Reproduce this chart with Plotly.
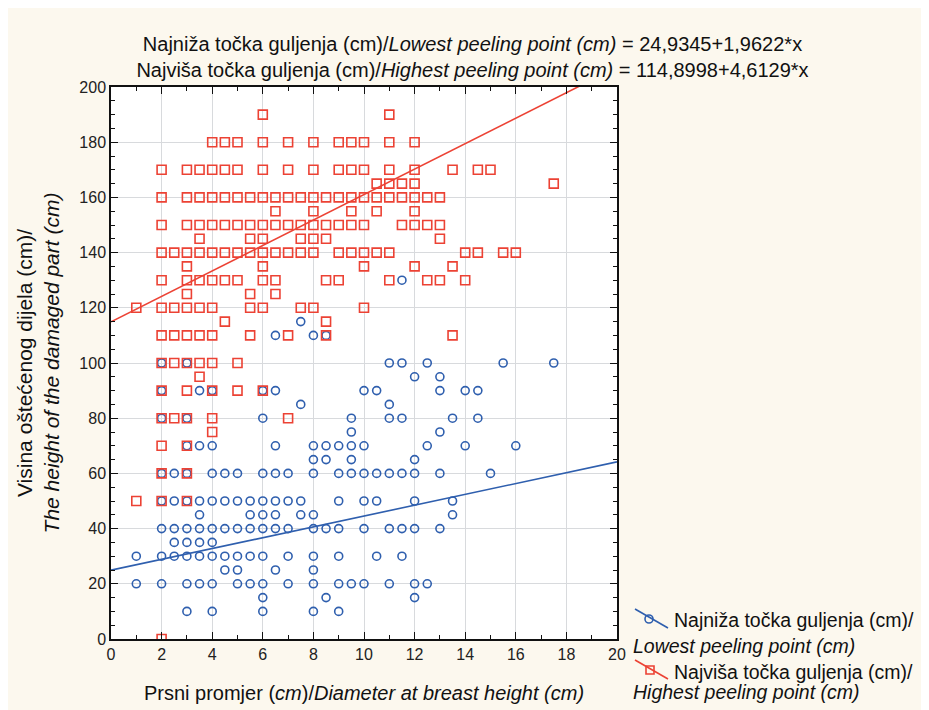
import plotly.graph_objects as go

# ---- data ----
# Lowest peeling point (blue circles): DBH (cm) and height (cm)
low_dbh = [
    11.5,
    7.5,
    6.5, 8, 8.5,
    2, 3, 11, 11.5, 12.5, 15.5, 17.5,
    12, 13,
    2, 3.5, 4, 6, 6.5, 10, 10.5, 13, 14, 14.5,
    7.5, 11,
    2, 3, 6, 9.5, 11, 11.5, 13.5, 14.5,
    9.5, 13,
    3, 3.5, 4, 6.5, 8, 8.5, 9, 9.5, 10, 12.5, 14, 16,
    8, 8.5, 9.5, 12,
    2, 2.5, 3, 4, 4.5, 5, 6, 6.5, 7, 8, 9, 9.5, 10, 10.5, 11, 11.5, 12, 13, 15,
    2, 2.5, 3, 3.5, 4, 4.5, 5, 5.5, 6, 6.5, 7, 7.5, 9, 10, 10.5, 12, 13.5,
    3.5, 5.5, 6, 6.5, 7.5, 8, 13.5,
    2, 2.5, 3, 3.5, 4, 4.5, 5, 5.5, 6, 6.5, 7, 8, 8.5, 9, 10, 11, 11.5, 12, 13,
    2.5, 3, 3.5, 4,
    1, 2, 2.5, 3, 3.5, 4, 4.5, 5, 5.5, 6, 7, 8, 9, 10.5, 11.5,
    4.5, 5, 6.5, 8,
    1, 2, 3, 3.5, 4, 5, 5.5, 6, 7, 8, 9, 9.5, 10, 11, 12, 12.5,
    6, 8.5, 12,
    3, 4, 6, 8, 9,
]
low_height = (
    [130] * 1 + [115] * 1 + [110] * 3 + [100] * 7 + [95] * 2 + [90] * 10
    + [85] * 2 + [80] * 8 + [75] * 2 + [70] * 12 + [65] * 4 + [60] * 19
    + [50] * 17 + [45] * 7 + [40] * 19 + [35] * 4 + [30] * 15 + [25] * 4
    + [20] * 16 + [15] * 3 + [10] * 5
)

# Highest peeling point (red squares)
high_dbh = [
    6, 11,
    4, 4.5, 5, 6, 7, 8, 9, 9.5, 10, 11, 12,
    2, 3, 3.5, 4, 4.5, 5, 6, 7, 8, 9, 9.5, 10, 11, 12, 13.5, 14.5, 15,
    10.5, 11, 11.5, 12, 17.5,
    2, 3, 3.5, 4, 4.5, 5, 5.5, 6, 6.5, 7, 7.5, 8, 8.5, 9, 9.5, 10, 10.5, 11, 11.5, 12, 12.5, 13,
    6.5, 8, 9.5, 10.5, 12,
    2, 3, 3.5, 4, 4.5, 5, 5.5, 6, 6.5, 7, 7.5, 8, 8.5, 9, 9.5, 10, 11.5, 12, 12.5, 13,
    3.5, 5.5, 6, 7.5, 8, 8.5, 13,
    2, 2.5, 3, 3.5, 4, 4.5, 5, 5.5, 6, 6.5, 7, 7.5, 8, 9, 9.5, 10, 10.5, 11, 14, 14.5, 15.5, 16,
    3, 6, 10, 12, 13.5,
    2, 3, 3.5, 4, 4.5, 5, 6, 6.5, 8.5, 9, 11, 12.5, 13, 14,
    3, 5.5, 6.5,
    1, 2, 2.5, 3, 3.5, 4, 5.5, 6, 7.5, 8, 10,
    4.5, 8.5,
    2, 2.5, 3, 3.5, 4, 5.5, 7, 8.5, 13.5,
    2, 2.5, 3, 3.5, 4, 5,
    3.5,
    2, 3, 4, 5, 6,
    2, 2.5, 3, 4, 7,
    4,
    2, 3,
    2, 3,
    1, 2, 3,
    2,
]
high_height = (
    [190] * 2 + [180] * 11 + [170] * 17 + [165] * 5 + [160] * 22 + [155] * 5
    + [150] * 20 + [145] * 7 + [140] * 22 + [135] * 5 + [130] * 14 + [125] * 3
    + [120] * 11 + [115] * 2 + [110] * 9 + [100] * 6 + [95] * 1 + [90] * 5
    + [80] * 5 + [75] * 1 + [70] * 2 + [60] * 2 + [50] * 3 + [0] * 1
)

# Regression coefficients (from the chart title)
low_a, low_b = 24.9345, 1.9622
high_a, high_b = 114.8998, 4.6129
fit_x = [0, 20]

x_ticks = list(range(0, 21, 2))
y_ticks = list(range(0, 201, 20))

legend_first = ["Najniža točka guljenja (cm)/", "Najviša točka guljenja (cm)/"]
legend_second = ["Lowest peeling point (cm)", "Highest peeling point (cm)"]

BLUE = "#2f5fae"
RED = "#ec4234"
FONT = "Liberation Sans, Arial, sans-serif"

# layout geometry (figure pixels)
W, H = 929, 710
ML, MR, MT, MB = 103, 320, 79, 79
PW, PH = W - ML - MR, H - MT - MB


def px(xp):
    return (xp - ML) / PW


def py(yp):
    return (H - MB - yp) / PH


fig = go.Figure()

fig.add_trace(go.Scatter(
    x=low_dbh, y=low_height, mode="markers", showlegend=False,
    marker=dict(symbol="circle-open", size=8, color=BLUE, line=dict(width=1.6, color=BLUE)),
))
fig.add_trace(go.Scatter(
    x=high_dbh, y=high_height, mode="markers", showlegend=False,
    marker=dict(symbol="square-open", size=9, color=RED, line=dict(width=1.6, color=RED)),
))
fig.add_trace(go.Scatter(
    x=fit_x, y=[low_a + low_b * v for v in fit_x], mode="lines", showlegend=False,
    line=dict(color=BLUE, width=1.6),
))
fig.add_trace(go.Scatter(
    x=fit_x, y=[high_a + high_b * v for v in fit_x], mode="lines", showlegend=False,
    line=dict(color=RED, width=1.6),
))

axis_common = dict(
    showline=True, linecolor="#111111", linewidth=1.5, mirror="allticks",
    ticks="inside", ticklen=7, tickwidth=1.3, tickcolor="#111111",
    showgrid=True, gridcolor="#d8dadd", gridwidth=1.2, zeroline=False,
    tickfont=dict(family=FONT, size=16, color="#222222"),
)

fig.update_xaxes(
    range=[0, 20], tickvals=x_ticks, ticktext=[str(v) for v in x_ticks],
    minor=dict(dtick=1, ticks="inside", ticklen=4, tickcolor="#111111", showgrid=False),
    title=dict(text="Prsni promjer (<i>cm</i>)/<i>Diameter at breast height (cm)</i>",
               font=dict(family=FONT, size=20, color="#111111"), standoff=24),
    automargin=False, **axis_common,
)
fig.update_yaxes(
    range=[0, 200], tickvals=y_ticks, ticktext=[str(v) for v in y_ticks],
    minor=dict(dtick=5, ticks="inside", ticklen=4, tickcolor="#111111", showgrid=False),
    title=dict(text="Visina oštećenog dijela (cm)/<br><i>The height of the damaged part (cm)</i>",
               font=dict(family=FONT, size=21, color="#111111"), standoff=14),
    automargin=False, **axis_common,
)

# hand-drawn legend (hanging-indent layout as in the reference)
legend_colors = [BLUE, RED]
sym_rows = [611, 662]          # figure-pixel y of the symbol centre
first_rows = [612, 664]        # figure-pixel y of the first text line
second_rows = [638, 684]       # figure-pixel y of the second (italic) line
shapes = []
annotations = []
for i in range(2):
    c = legend_colors[i]
    y0 = sym_rows[i]
    shapes.append(dict(type="line", xref="paper", yref="paper",
                       x0=px(627), y0=py(y0 - 10), x1=px(660), y1=py(y0 + 9),
                       line=dict(color=c, width=1.6)))
    if i == 0:
        shapes.append(dict(type="circle", xref="paper", yref="paper",
                           x0=px(637), y0=py(y0 - 4), x1=px(645), y1=py(y0 + 4),
                           line=dict(color=c, width=1.6), fillcolor="rgba(0,0,0,0)"))
    else:
        shapes.append(dict(type="rect", xref="paper", yref="paper",
                           x0=px(638), y0=py(y0 - 4), x1=px(646), y1=py(y0 + 4),
                           line=dict(color=c, width=1.6), fillcolor="rgba(0,0,0,0)"))
    annotations.append(dict(text=legend_first[i], xref="paper", yref="paper",
                            x=px(664), y=py(first_rows[i]), xanchor="left", yanchor="middle",
                            showarrow=False, font=dict(family=FONT, size=19.5, color="#111111")))
    annotations.append(dict(text="<i>" + legend_second[i] + "</i>", xref="paper", yref="paper",
                            x=px(623), y=py(second_rows[i]), xanchor="left", yanchor="middle",
                            showarrow=False, font=dict(family=FONT, size=19.5, color="#111111")))

fig.update_layout(
    width=W, height=H,
    margin=dict(l=ML, r=MR, t=MT, b=MB),
    paper_bgcolor="#fcf8ee", plot_bgcolor="#ffffff",
    title=dict(
        text=("Najniža točka guljenja (cm)/<i>Lowest peeling point (cm)</i> = 24,9345+1,9622*x<br>"
              "Najviša točka guljenja (cm)/<i>Highest peeling point (cm)</i> = 114,8998+4,6129*x"),
        x=0.5, xanchor="center", y=0.94, yanchor="middle",
        font=dict(family="Liberation Sans Narrow, Arial Narrow, " + FONT, size=20, color="#111111"),
    ),
    showlegend=False,
    shapes=shapes,
    annotations=annotations,
)

fig.write_html("out.html")
